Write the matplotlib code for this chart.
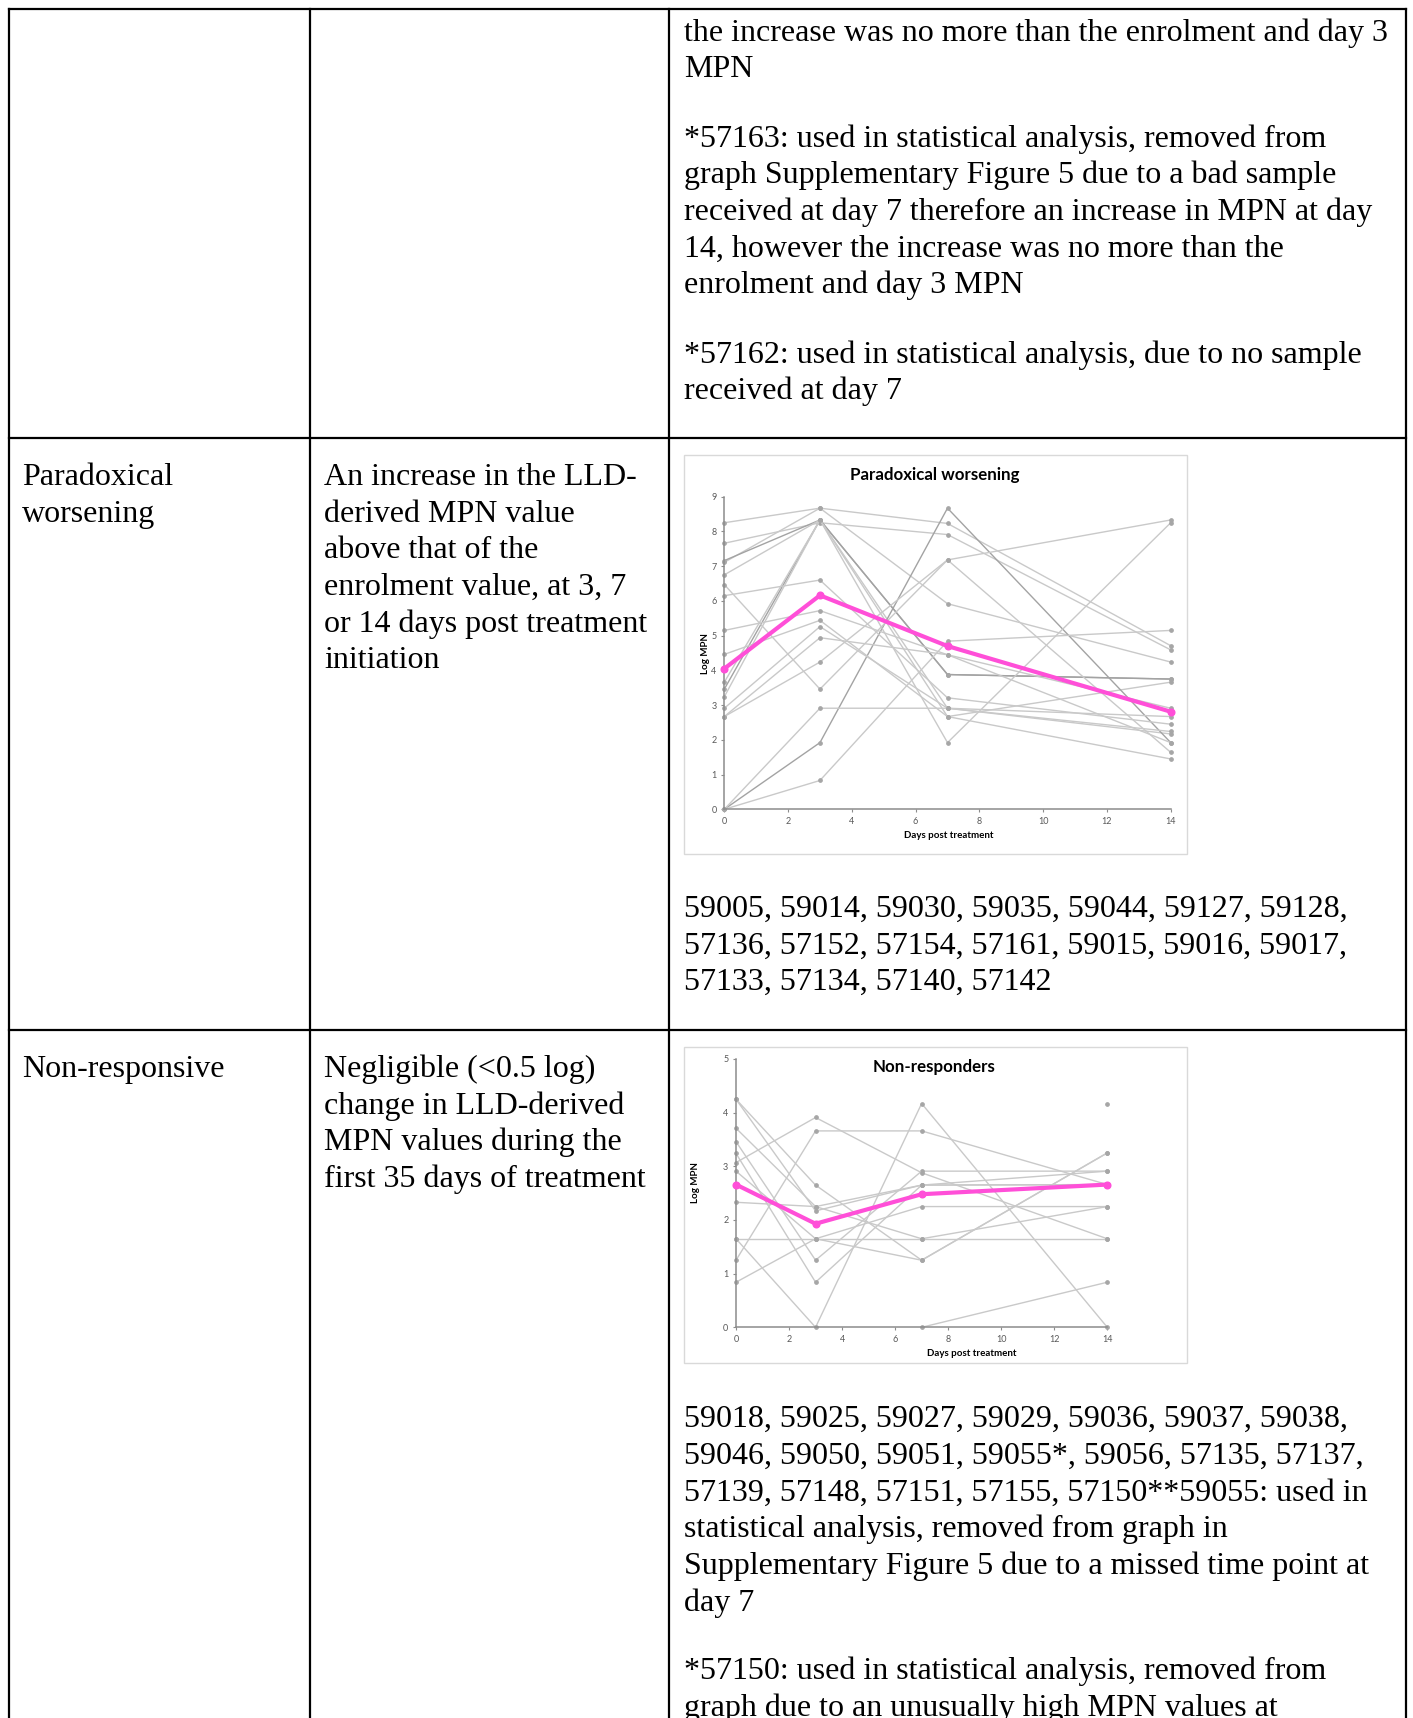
import numpy as np
import matplotlib
matplotlib.use("Agg")
import matplotlib.pyplot as plt
from matplotlib.patches import Rectangle

W, H = 1413, 1718
nan = np.nan

# ---------------- data ----------------
days = [0, 3, 7, 14]

# Paradoxical worsening: log MPN per patient at days 0, 3, 7, 14
pw_series = [
    [8.25, 8.67, 8.23, 4.71],
    [7.11, 8.67, 5.92, 4.24],
    [7.66, 8.25, 7.91, 4.59],
    [7.16, 8.33, 3.88, 3.75],
    [3.46, 8.33, 3.88, 3.75],
    [3.66, 8.33, 2.67, 3.66],
    [6.75, 8.33, 2.91, 2.17],
    [0.00, 1.92, 8.67, 1.92],
    [6.47, 3.46, 7.18, 8.33],
    [0.00, 0.83, 4.84, 5.15],
    [0.00, 2.91, 2.91, 2.67],
    [6.15, 6.60, 3.21, 2.45],
    [5.15, 5.72, 4.45, 1.92],
    [4.46, 5.44, 2.67, 1.45],
    [2.91, 5.26, 2.91, 2.24],
    [2.67, 4.24, 7.18, 1.64],
    [3.24, 8.33, 1.92, 8.25],
    [2.67, 4.94, 4.45, 2.91],
]
pw_dark = [3, 4, 7]          # indices drawn in a darker grey
pw_mean = [4.05, 6.16, 4.70, 2.81]

# Non-responders: log MPN per patient at days 0, 3, 7, 14
nr_series = [
    [4.25, 2.65, 1.25, 3.25],
    [4.25, 2.17, 2.65, 2.91],
    [3.71, 2.25, 1.65, 2.25],
    [3.46, 1.25, 2.91, 2.91],
    [3.24, 0.84, 2.65, 2.66],
    [3.07, 3.91, 2.88, 1.65],
    [2.91, 1.65, 1.25, 3.25],
    [2.33, 2.25, 2.65, 2.66],
    [1.65, 1.65, 1.65, 1.65],
    [1.25, 3.66, 3.66, 2.66],
    [1.65, 0.00, 4.17, 0.00],
    [0.84, 1.65, 2.25, 2.25],
    [nan, nan, 0.00, 0.84],
    [nan, nan, nan, 4.17],
]
nr_mean = [2.66, 1.93, 2.48, 2.66]

# ---------------- table text ----------------
top_note_lines = [
    "the increase was no more than the enrolment and day 3",
    "MPN",
    "*57163: used in statistical analysis, removed from",
    "graph Supplementary Figure 5 due to a bad sample",
    "received at day 7 therefore an increase in MPN at day",
    "14, however the increase was no more than the",
    "enrolment and day 3 MPN",
    "*57162: used in statistical analysis, due to no sample",
    "received at day 7",
]
top_note_y = [40.5, 77.2, 146.7, 183.4, 220.1, 256.8, 293.5, 362.5, 399.2]

pw_name = ["Paradoxical", "worsening"]
pw_def = ["An increase in the LLD-", "derived MPN value", "above that of the",
          "enrolment value, at 3, 7", "or 14 days post treatment", "initiation"]
pw_ids = ["59005, 59014, 59030, 59035, 59044, 59127, 59128,",
          "57136, 57152, 57154, 57161, 59015, 59016, 59017,",
          "57133, 57134, 57140, 57142"]

nr_name = ["Non-responsive"]
nr_def = ["Negligible (<0.5 log)", "change in LLD-derived",
          "MPN values during the", "first 35 days of treatment"]
nr_notes = ["59018, 59025, 59027, 59029, 59036, 59037, 59038,",
            "59046, 59050, 59051, 59055*, 59056, 57135, 57137,",
            "57139, 57148, 57151, 57155, 57150**59055: used in",
            "statistical analysis, removed from graph in",
            "Supplementary Figure 5 due to a missed time point at",
            "day 7",
            "*57150: used in statistical analysis, removed from",
            "graph due to an unusually high MPN values at"]
nr_notes_y = [1427.0, 1463.7, 1500.4, 1537.1, 1573.8, 1610.5, 1679.0, 1715.7]

# ---------------- page ----------------
fig = plt.figure(figsize=(W / 100, H / 100), dpi=100)
page = fig.add_axes([0, 0, 1, 1])
page.set_xlim(0, W)
page.set_ylim(H, 0)
page.axis("off")

serif = dict(family="Liberation Serif", fontsize=23, color="black", va="baseline", ha="left")
pitch = 36.7

# table grid
col_x = [9, 310, 669, 1406]
row_y = [8.7, 437.5, 1030]
for x in col_x:
    page.plot([x, x], [row_y[0], H + 5], color="black", lw=1.6, solid_capstyle="projecting")
for y in row_y:
    page.plot([col_x[0], col_x[-1]], [y, y], color="black", lw=1.6, solid_capstyle="projecting")

c1, c2, c3 = 22, 324, 684

for s, y in zip(top_note_lines, top_note_y):
    page.text(c3, y, s, **serif)

for i, s in enumerate(pw_name):
    page.text(c1, 485 + i * pitch, s, **serif)
for i, s in enumerate(pw_def):
    page.text(c2, 485 + i * pitch, s, **serif)
for i, s in enumerate(pw_ids):
    page.text(c3, 916.8 + i * pitch, s, **serif)

for i, s in enumerate(nr_name):
    page.text(c1, 1077 + i * pitch, s, **serif)
for i, s in enumerate(nr_def):
    page.text(c2, 1077 + i * pitch, s, **serif)
for s, y in zip(nr_notes, nr_notes_y):
    page.text(c3, y, s, **serif)

# ---------------- embedded charts ----------------
sans = "Lato"
tick_col = "#595959"
light = "#c9c9c9"
dark = "#a3a3a3"
pink = "#ff4fd8"


def chart_axes(px0, px14, py0, pytop, ymax):
    ax = fig.add_axes([px0 / W, 1 - py0 / H, (px14 - px0) / W, (py0 - pytop) / H])
    ax.set_xlim(0, 14)
    ax.set_ylim(0, ymax)
    ax.patch.set_alpha(0)
    for side in ("top", "right"):
        ax.spines[side].set_visible(False)
    for side in ("left", "bottom"):
        ax.spines[side].set_color("#8c8c8c")
        ax.spines[side].set_linewidth(1.1)
    ax.set_xticks(range(0, 15, 2))
    ax.set_yticks(range(0, ymax + 1))
    ax.tick_params(axis="both", length=2.5, width=0.8, color="#8c8c8c",
                   labelsize=6.5, labelcolor=tick_col, pad=3)
    for lab in ax.get_xticklabels() + ax.get_yticklabels():
        lab.set_family(sans)
    return ax


def draw_series(ax, series, dark_idx, mean):
    for i, s in enumerate(series):
        col = dark if i in dark_idx else light
        ax.plot(days, s, color=col, lw=1.0, marker="o", ms=2.4,
                mfc="#a6a6a6", mec="#a6a6a6", clip_on=False, zorder=2)
    ax.plot(days, mean, color=pink, lw=3.0, marker="o", ms=4.8,
            mfc=pink, mec=pink, clip_on=False, zorder=4)


# chart frames
for (x0, y0, x1, y1) in [(684, 455, 1187, 854), (684, 1047, 1187, 1363)]:
    page.add_patch(Rectangle((x0, y0), x1 - x0, y1 - y0, fill=False,
                             ec="#d9d9d9", lw=1.0))

# Paradoxical worsening
ax1 = chart_axes(724.3, 1170.7, 809.3, 496.7, 9)
draw_series(ax1, pw_series, pw_dark, pw_mean)
page.text(935, 475, "Paradoxical worsening", family=sans, fontweight="bold",
          fontsize=12.2, ha="center", va="center")
page.text(948.5, 836, "Days post treatment", family=sans, fontweight="bold",
          fontsize=7, ha="center", va="center")
page.text(705, 654, "Log MPN", family=sans, fontweight="bold", fontsize=7,
          ha="center", va="center", rotation=90)

# Non-responders
ax2 = chart_axes(736, 1107.3, 1327.3, 1059, 5)
draw_series(ax2, nr_series, [], nr_mean)
page.text(934, 1067, "Non-responders", family=sans, fontweight="bold",
          fontsize=12.2, ha="center", va="center")
page.text(971.5, 1354, "Days post treatment", family=sans, fontweight="bold",
          fontsize=7, ha="center", va="center")
page.text(696, 1183, "Log MPN", family=sans, fontweight="bold", fontsize=7,
          ha="center", va="center", rotation=90)

fig.savefig("out.png", dpi=100)
